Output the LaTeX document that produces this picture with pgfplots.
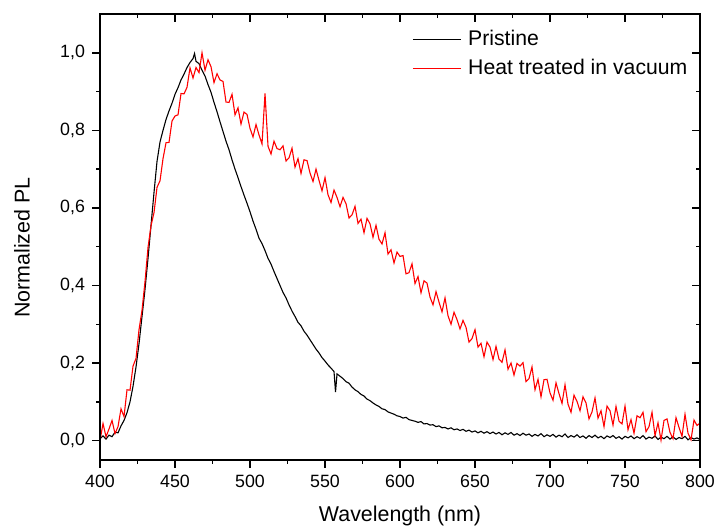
\documentclass[border=0pt]{standalone}
\usepackage{fontspec}
\setmainfont{Liberation Sans}
\usepackage{pgfplots}
\usepackage{pgfplotstable}
\pgfplotsset{compat=1.18}

\pgfplotstableread{
x y
400 0.005
402 0.012
404 0.004
406 0.014
408 0.010
410 0.022
412 0.020
414 0.038
416 0.052
418 0.072
420 0.100
422 0.140
424 0.190
426 0.250
428 0.320
430 0.390
432 0.470
434 0.555
436 0.640
438 0.720
440 0.770
442 0.800
444 0.828
446 0.850
448 0.870
450 0.893
452 0.910
454 0.930
456 0.945
458 0.962
460 0.975
462 0.985
463 0.998
464 0.978
466 0.972
468 0.955
470 0.940
472 0.918
474 0.898
476 0.872
478 0.848
480 0.822
482 0.797
484 0.772
486 0.750
488 0.724
490 0.700
492 0.678
494 0.655
496 0.633
498 0.612
500 0.590
502 0.566
504 0.545
506 0.522
508 0.508
510 0.490
512 0.470
514 0.455
516 0.436
518 0.418
520 0.400
522 0.382
524 0.368
526 0.350
528 0.334
530 0.320
532 0.305
534 0.296
536 0.282
538 0.272
540 0.260
542 0.248
544 0.236
546 0.226
548 0.214
550 0.205
552 0.195
554 0.187
556 0.178
557 0.125
558 0.172
560 0.166
562 0.160
564 0.152
566 0.148
568 0.138
570 0.131
572 0.126
574 0.119
576 0.115
578 0.107
580 0.103
582 0.097
584 0.092
586 0.088
588 0.082
590 0.080
592 0.074
594 0.071
596 0.068
598 0.064
600 0.062
602 0.058
604 0.060
606 0.054
608 0.052
610 0.050
612 0.047
614 0.049
616 0.043
618 0.044
620 0.040
622 0.041
624 0.036
626 0.038
628 0.033
630 0.034
632 0.030
634 0.033
636 0.028
638 0.030
640 0.026
642 0.029
644 0.024
646 0.027
648 0.022
650 0.025
652 0.020
654 0.024
656 0.019
658 0.023
660 0.018
662 0.022
664 0.017
666 0.021
668 0.015
670 0.020
672 0.016
674 0.021
676 0.014
678 0.018
680 0.013
682 0.019
684 0.014
686 0.017
688 0.011
690 0.016
692 0.012
694 0.018
696 0.010
698 0.015
700 0.011
702 0.016
704 0.009
706 0.014
708 0.010
710 0.017
712 0.008
714 0.013
716 0.009
718 0.015
720 0.008
722 0.012
724 0.006
726 0.013
728 0.008
730 0.014
732 0.007
734 0.011
736 0.005
738 0.012
740 0.008
742 0.013
744 0.006
746 0.010
748 0.004
750 0.011
752 0.007
754 0.012
756 0.005
758 0.010
760 0.006
762 0.013
764 0.004
766 0.009
768 0.006
770 0.012
772 0.003
774 0.009
776 0.005
778 0.011
780 0.004
782 0.010
784 0.003
786 0.008
788 0.005
790 0.011
792 0.002
794 0.008
796 0.004
798 0.007
800 0.003
}\pristine

\pgfplotstableread{
x y
400 0.000
402 0.044
404 0.010
406 0.030
408 0.052
410 0.018
412 0.036
414 0.082
416 0.062
418 0.131
420 0.130
422 0.192
424 0.212
426 0.286
428 0.336
430 0.410
432 0.498
434 0.554
436 0.588
438 0.653
440 0.670
442 0.727
444 0.768
446 0.769
448 0.824
450 0.837
452 0.840
454 0.895
456 0.894
458 0.911
460 0.961
462 0.935
464 0.962
466 0.949
468 1.000
470 0.955
472 0.982
474 0.964
476 0.923
478 0.946
480 0.930
482 0.926
484 0.873
486 0.872
488 0.893
490 0.840
492 0.858
494 0.816
496 0.847
498 0.841
500 0.805
502 0.783
504 0.815
506 0.788
508 0.765
510 0.895
512 0.759
514 0.739
516 0.772
518 0.753
520 0.750
522 0.760
524 0.721
526 0.729
528 0.754
530 0.705
532 0.727
534 0.689
536 0.724
538 0.722
540 0.690
542 0.668
544 0.700
546 0.671
548 0.644
550 0.678
552 0.634
554 0.614
556 0.646
558 0.627
560 0.603
562 0.627
564 0.611
566 0.574
568 0.582
570 0.604
572 0.560
574 0.571
576 0.536
578 0.573
580 0.559
582 0.524
584 0.555
586 0.519
588 0.507
590 0.536
592 0.481
594 0.492
596 0.458
598 0.486
600 0.475
602 0.477
604 0.430
606 0.433
608 0.456
610 0.405
612 0.423
614 0.381
616 0.412
618 0.406
620 0.370
622 0.350
624 0.384
626 0.357
628 0.332
630 0.368
632 0.322
634 0.300
636 0.331
638 0.312
640 0.288
642 0.310
644 0.292
646 0.254
648 0.263
650 0.286
652 0.241
654 0.251
656 0.216
658 0.254
660 0.241
662 0.209
664 0.243
666 0.210
668 0.202
670 0.234
672 0.184
674 0.200
676 0.169
678 0.199
680 0.192
682 0.201
684 0.152
686 0.160
688 0.190
690 0.131
692 0.158
694 0.113
696 0.157
698 0.158
700 0.123
702 0.104
704 0.149
706 0.121
708 0.096
710 0.144
712 0.094
714 0.073
716 0.117
718 0.101
720 0.077
722 0.113
724 0.097
726 0.056
728 0.074
730 0.110
732 0.058
734 0.077
736 0.036
738 0.089
740 0.077
742 0.040
744 0.088
746 0.050
748 0.043
750 0.089
752 0.028
754 0.054
756 0.019
758 0.064
760 0.059
762 0.073
764 0.023
766 0.036
768 0.073
770 0.013
772 0.046
774 0.001
776 0.052
778 0.056
780 0.021
782 0.005
784 0.059
786 0.034
788 0.011
790 0.068
792 0.019
794 0.002
796 0.053
798 0.039
800 0.045
}\heated

\pgfplotsset{
  commonax/.style={
    width=300pt, height=223pt, scale only axis,
    xmin=400, xmax=800, ymin=-0.05, ymax=1.1,
    xtick={400,450,500,550,600,650,700,750,800},
    ytick={0,0.2,0.4,0.6,0.8,1.0},
    minor x tick num=1, minor y tick num=1,
    axis line style={line width=1pt},
    major tick length=4pt, minor tick length=2pt,
    every tick/.style={black, line width=0.75pt},
  }
}

\begin{document}
\begin{tikzpicture}
\begin{axis}[commonax,
  xtick pos=bottom, ytick pos=left, tick align=outside,
  /pgf/number format/assume math mode=true,
  ticklabel style={font=\fontsize{8.9}{10}\selectfont},
  yticklabel style={/pgf/number format/.cd, fixed, fixed zerofill, precision=1, use comma},
  xticklabel style={/pgf/number format/.cd, fixed, precision=0, 1000 sep={}},
  xlabel={Wavelength (nm)}, ylabel={Normalized PL},
  label style={font=\fontsize{10.7}{12}\selectfont},
  xlabel style={at={(axis description cs:0.5,-0.1256)}, anchor=center},
  ylabel style={at={(axis description cs:-0.13,0.476)}, anchor=center},
  legend style={at={(rel axis cs:0.51,0.982)}, anchor=north west, draw=none, fill=none,
    font=\fontsize{10.6}{12}\selectfont, row sep=1pt},
  legend cell align=left,
  legend image code/.code={\draw[#1, line width=0.4pt] (0pt,0pt) -- (24pt,0pt);},
]
\addplot[black, line width=0.55pt] table[x=x, y=y] {\pristine};
\addlegendentry{\hspace*{1.5pt}Pristine}
\addplot[red, line width=0.55pt] table[x=x, y=y] {\heated};
\addlegendentry{\hspace*{1.5pt}Heat treated in vacuum}
\coordinate (bbA) at (rel axis cs:-0.1667,-0.1525);
\coordinate (bbB) at (rel axis cs:1.025,1.0314);
\end{axis}
\begin{axis}[commonax,
  xtick pos=top, ytick pos=right, tick align=inside,
  xticklabels={}, yticklabels={},
]
\end{axis}
\pgfresetboundingbox
\useasboundingbox (bbA) rectangle (bbB);
\end{tikzpicture}
\end{document}
